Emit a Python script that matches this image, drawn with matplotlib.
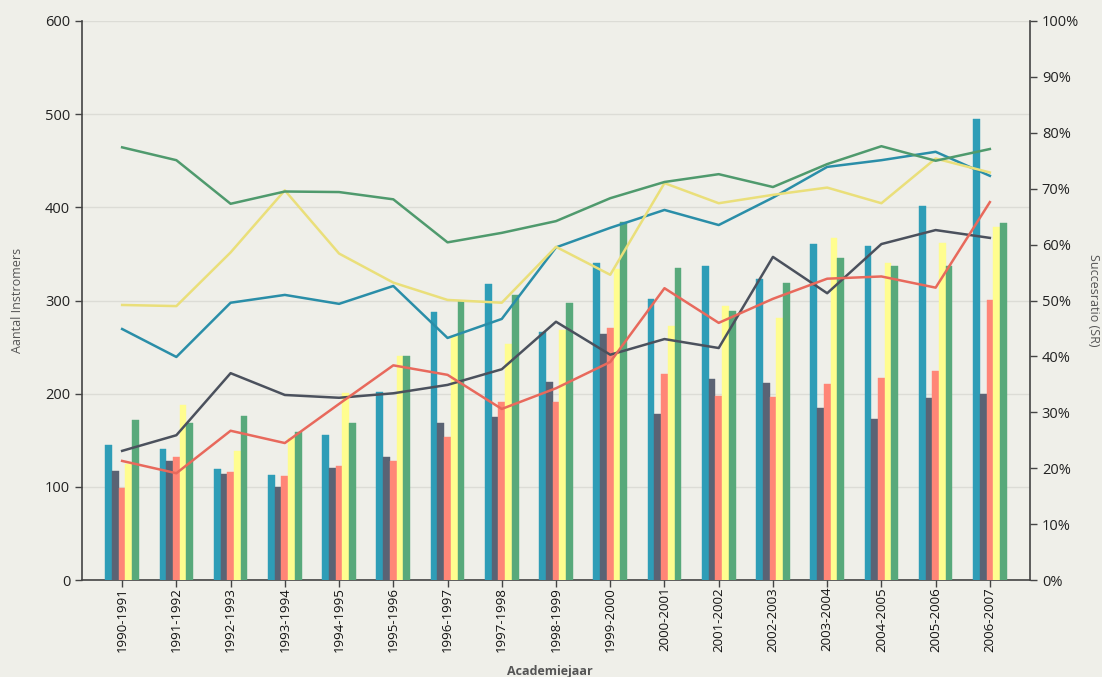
import matplotlib
matplotlib.use("Agg")
import matplotlib.pyplot as plt
import numpy as np
from matplotlib.ticker import FuncFormatter, MultipleLocator

plt.rcParams['font.family'] = ['Open Sans', 'DejaVu Sans']

years = ["1990-1991", "1991-1992", "1992-1993", "1993-1994", "1994-1995",
         "1995-1996", "1996-1997", "1997-1998", "1998-1999", "1999-2000",
         "2000-2001", "2001-2002", "2002-2003", "2003-2004", "2004-2005",
         "2005-2006", "2006-2007"]

# Bars: Aantal instromers
bar_teal   = [145, 141, 119, 113, 156, 202, 288, 318, 266, 340, 302, 337, 323, 361, 358, 401, 495]
bar_gray   = [117, 128, 114, 100, 120, 132, 169, 175, 213, 264, 178, 216, 211, 185, 173, 195, 200]
bar_salmon = [99, 132, 116, 112, 122, 128, 154, 191, 191, 270, 221, 198, 196, 210, 217, 224, 301]
bar_yellow = [125, 188, 138, 152, 201, 240, 262, 253, 268, 334, 273, 294, 281, 367, 340, 362, 379]
bar_green  = [172, 168, 176, 159, 169, 240, 299, 306, 297, 384, 335, 289, 319, 346, 337, 337, 383]

# Lines: Succesratio (%)
sr_teal   = [44.9, 39.9, 49.6, 51.0, 49.4, 52.6, 43.3, 46.7, 59.5, 63.0, 66.2, 63.5, 68.4, 73.9, 75.1, 76.6, 72.3]
sr_gray   = [23.1, 25.9, 37.0, 33.1, 32.6, 33.4, 34.9, 37.7, 46.2, 40.3, 43.1, 41.5, 57.8, 51.3, 60.1, 62.6, 61.2]
sr_red    = [21.3, 19.1, 26.7, 24.5, 31.5, 38.4, 36.7, 30.6, 34.3, 39.0, 52.2, 46.0, 50.3, 53.9, 54.3, 52.3, 67.6]
sr_yellow = [49.2, 49.0, 58.6, 69.7, 58.4, 53.2, 50.1, 49.6, 59.6, 54.6, 71.0, 67.4, 68.9, 70.2, 67.4, 75.4, 72.9]
sr_green  = [77.4, 75.1, 67.3, 69.5, 69.4, 68.1, 60.4, 62.1, 64.2, 68.3, 71.2, 72.6, 70.3, 74.4, 77.6, 75.0, 77.1]

bar_series = [bar_teal, bar_gray, bar_salmon, bar_yellow, bar_green]
bar_colors = ["#2E9DB7", "#5A6374", "#FF8677", "#FFFD8F", "#58A97B"]
line_series = [sr_teal, sr_gray, sr_red, sr_yellow, sr_green]
line_colors = ["#2A8EA8", "#4B515D", "#E8695C", "#EADF7A", "#4F9A6D"]

bg = "#EFEFE9"
axis_col = "#444444"
fig = plt.figure(figsize=(11.02, 6.77), dpi=100, facecolor=bg)
ax = fig.add_axes([82/1102, 1 - 580/677, (1030-82)/1102, (580-21)/677])
ax.set_facecolor(bg)

x = np.arange(len(years))
w = 0.124
for i, (vals, c) in enumerate(zip(bar_series, bar_colors)):
    ax.bar(x + (i - 2) * w, vals, width=w, color=c, edgecolor=c, linewidth=0.3, zorder=3)

ax.set_xlim(-0.74, len(years) - 1 + 0.74)
ax.set_ylim(0, 600)
ax.yaxis.set_major_locator(MultipleLocator(100))
ax.grid(axis='y', color="#DCDCD6", linewidth=1, zorder=0)
ax.set_axisbelow(True)
ax.set_xticks(x)
ax.set_xticklabels(years, rotation=90, fontsize=9.5, color="#111111")
ax.tick_params(axis='y', labelsize=10.5, colors="#222222", length=5, width=1, color=axis_col)
ax.tick_params(axis='x', length=5, width=1, color=axis_col, pad=0)
for s in ['top', 'right']:
    ax.spines[s].set_visible(False)
for s in ['left', 'bottom']:
    ax.spines[s].set_color(axis_col)
    ax.spines[s].set_linewidth(1.2)

ax2 = ax.twinx()
for vals, c in zip(line_series, line_colors):
    ax2.plot(x, vals, color=c, linewidth=1.8, zorder=4)
ax2.set_ylim(0, 100)
ax2.yaxis.set_major_locator(MultipleLocator(10))
ax2.yaxis.set_major_formatter(FuncFormatter(lambda v, p: f"{int(round(v))}%"))
ax2.tick_params(axis='y', labelsize=10.5, colors="#222222", length=5, width=1, color=axis_col)
for s in ['top', 'left', 'bottom']:
    ax2.spines[s].set_visible(False)
ax2.spines['right'].set_color(axis_col)
ax2.spines['right'].set_linewidth(1.2)

fig.text(18/1102, 1 - 300/677, "Aantal Instromers", rotation=90, ha='center', va='center',
         fontsize=9, color="#555555")
fig.text(1093/1102, 1 - 300/677, "Succesratio (SR)", rotation=270, ha='center', va='center',
         fontsize=9, color="#555555")
fig.text(550/1102, 1 - 671/677, "Academiejaar", ha='center', va='center',
         fontsize=9, color="#555555", fontweight='bold')

fig.savefig("out.png", dpi=100, facecolor=bg)
